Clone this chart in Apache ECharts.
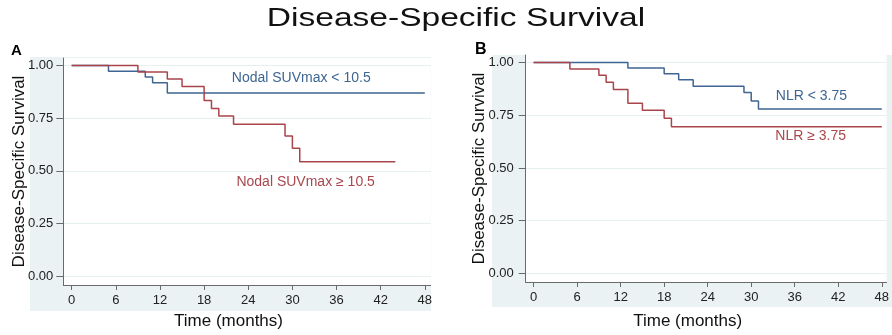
<!DOCTYPE html>
<html><head><meta charset="utf-8">
<script src="https://cdn.jsdelivr.net/npm/echarts@6/dist/echarts.min.js"></script>
<style>html,body{margin:0;padding:0;background:#fff}#c{width:892px;height:335px}</style>
</head><body><div id="c"></div>
<script>
// ---- data ----
const xTicks = [0, 6, 12, 18, 24, 30, 36, 42, 48];
const yTicks = [0, 0.25, 0.5, 0.75, 1];
const aLowTime  = [0, 5, 10, 11, 13, 48];
const aLowSurv  = [1, 0.973, 0.946, 0.919, 0.870, 0.870];
const aHighTime = [0, 9, 13, 15, 18, 19, 20, 22, 29, 30, 31, 44];
const aHighSurv = [1, 0.969, 0.936, 0.901, 0.834, 0.796, 0.760, 0.721, 0.666, 0.607, 0.543, 0.543];
const bLowTime  = [0, 13, 18, 20, 22, 29, 30, 31, 48];
const bLowSurv  = [1, 0.974, 0.947, 0.918, 0.888, 0.858, 0.818, 0.780, 0.780];
const bHighTime = [0, 5, 9, 10, 11, 13, 15, 18, 19, 48];
const bHighSurv = [1, 0.969, 0.940, 0.907, 0.872, 0.807, 0.774, 0.736, 0.696, 0.696];
const curveNames = ['Nodal SUVmax < 10.5', 'Nodal SUVmax \u2265 10.5', 'NLR < 3.75', 'NLR \u2265 3.75'];
const curveLabelAt = [[31.2, 0.941], [31.8, 0.447], [38.3, 0.843], [38.2, 0.651]];
const chartTitle = 'Disease-Specific Survival';
const panelNames = ['A', 'B'];
const xTitle = 'Time (months)';
const yTitle = 'Disease-Specific Survival';

// ---- styles ----
const BLUE = '#3F6592', RED = '#A9444B';
const TXT_BLUE = '#3D6693', TXT_RED = '#A8474E';
const AXIS = '#6a6a6a';
const tickFont = '"Liberation Sans Narrow", "Liberation Sans", Arial, sans-serif';
const mainFont = '"Liberation Sans", Arial, sans-serif';

function pts(t, s) { return t.map((v, i) => [v, s[i]]); }

function xAx(gi, min, max, gap) {
  return {
    gridIndex: gi, type: 'value', min: min, max: max,
    axisLine: { show: true, onZero: false, lineStyle: { color: AXIS, width: 1 } },
    axisTick: { show: true, customValues: xTicks, length: 5, lineStyle: { color: AXIS } },
    axisLabel: { customValues: xTicks, margin: 9, fontSize: 13, color: '#222', fontFamily: tickFont },
    splitLine: { show: false },
    name: xTitle, nameLocation: 'middle', nameGap: gap, nameMoveOverlap: false,
    nameTextStyle: { fontSize: 17, color: '#111', fontFamily: mainFont, padding: [0, 37, 0, 0] }
  };
}
function yAx(gi, min, max, gap, margin) {
  return {
    gridIndex: gi, type: 'value', min: min, max: max,
    axisLine: { show: true, onZero: false, lineStyle: { color: AXIS, width: 1 } },
    axisTick: { show: true, customValues: yTicks, length: 7, lineStyle: { color: AXIS } },
    axisLabel: { customValues: yTicks, margin: margin, fontSize: 13, color: '#222', fontFamily: tickFont,
                 formatter: v => v.toFixed(2) },
    splitLine: { show: true, lineStyle: { color: '#E8EFEF', width: 1 } },
    name: yTitle, nameLocation: 'middle', nameGap: gap, nameRotate: 90, nameMoveOverlap: false,
    nameTextStyle: { fontSize: 17, color: '#111', fontFamily: mainFont }
  };
}
function curve(gi, t, s, color, label, at, lcolor) {
  return {
    type: 'line', xAxisIndex: gi, yAxisIndex: gi, step: 'end', symbol: 'none',
    data: pts(t, s), lineStyle: { color: color, width: 1.5 }, itemStyle: { color: color },
    animation: false, silent: true,
    markPoint: {
      symbol: 'rect', symbolSize: 0, silent: true, animation: false,
      data: [{ coord: at, value: 0 }],
      label: { show: true, position: 'inside', formatter: label, color: lcolor, fontSize: 14, fontFamily: mainFont }
    }
  };
}

const chart = echarts.init(document.getElementById('c'), null, { renderer: 'canvas' });
chart.setOption({
  animation: false,
  backgroundColor: '#fff',
  grid: [
    { left: 63.3, right: 461.3, top: 58, bottom: 47.7, show: true, backgroundColor: '#fff', borderWidth: 0 },
    { left: 525.7, right: 2, top: 55, bottom: 51.7, show: true, backgroundColor: '#fff', borderWidth: 0 }
  ],
  xAxis: [xAx(0, -1.14, 48.8, 28), xAx(1, -1.09, 48.67, 31)],
  yAxis: [yAx(0, -0.042, 1.036, 35, 10), yAx(1, -0.041, 1.036, 38, 12)],
  series: [
    curve(0, aLowTime, aLowSurv, BLUE, curveNames[0], curveLabelAt[0], TXT_BLUE),
    curve(0, aHighTime, aHighSurv, RED, curveNames[1], curveLabelAt[1], TXT_RED),
    curve(1, bLowTime, bLowSurv, BLUE, curveNames[2], curveLabelAt[2], TXT_BLUE),
    curve(1, bHighTime, bHighSurv, RED, curveNames[3], curveLabelAt[3], TXT_RED)
  ],
  graphic: [
    { type: 'rect', z: -100, silent: true, shape: { x: 30, y: 57, width: 401, height: 254 }, style: { fill: '#EAF2F3' } },
    { type: 'rect', z: -100, silent: true, shape: { x: 492, y: 55, width: 400, height: 252 }, style: { fill: '#EAF2F3' } },
    { type: 'text', x: 456, y: 6, scaleX: 1.29, silent: true,
      style: { text: chartTitle, font: '26px ' + mainFont, fill: '#111', align: 'center', verticalAlign: 'top' } },
    { type: 'text', x: 11, y: 43, silent: true,
      style: { text: panelNames[0], font: 'bold 15px ' + mainFont, fill: '#000' } },
    { type: 'text', x: 475, y: 42, silent: true,
      style: { text: panelNames[1], font: 'bold 16px ' + mainFont, fill: '#000' } }
  ]
});
</script>
</body></html>
